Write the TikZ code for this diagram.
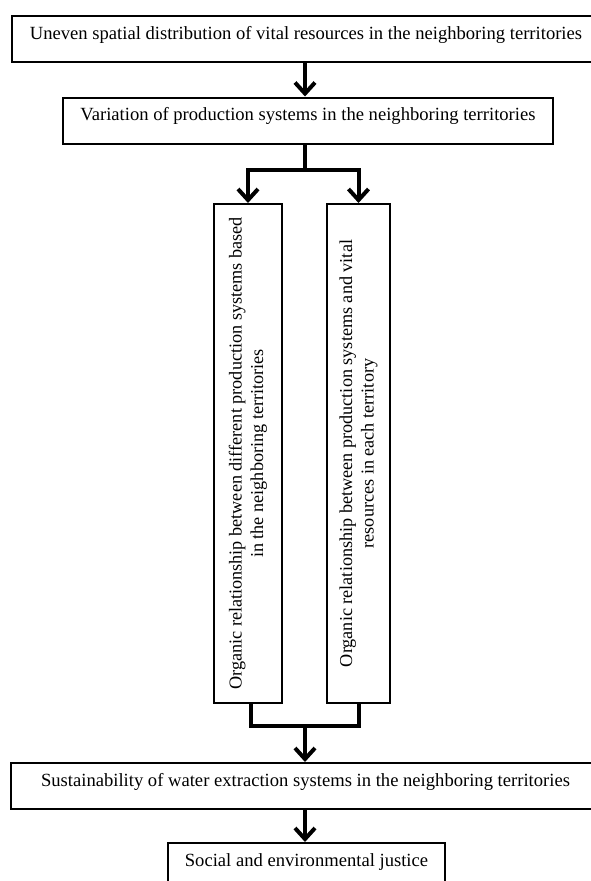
\documentclass[tikz,border=0pt]{standalone}
\usepackage{fontspec}
\setmainfont{Liberation Serif}
\usetikzlibrary{arrows.meta}
\begin{document}
\begin{tikzpicture}[x=1pt,y=-1pt,
  box/.style={draw,line width=2pt,inner sep=0pt,font=\fontsize{18.6}{21.5}\selectfont,text height=9pt,text depth=9pt},
  vbox/.style={draw,line width=2pt,inner sep=0pt,rotate=90,align=center,font=\fontsize{18.2}{21.5}\selectfont,minimum width=499pt},
  conn/.style={line width=4pt},
  arr/.style={line width=4pt,-{Straight Barb[length=11pt,width=20pt]}}]
\useasboundingbox (0,0) rectangle (590,881);
\node[box,minimum width=588pt,minimum height=46pt] (b1) at (306,39) {Uneven spatial distribution of vital resources in the neighboring territories};
\node[box,minimum width=490pt,minimum height=46.5pt] (b2) at (308,120.75) {Variation of production systems in the neighboring territories};
\node[vbox,minimum height=68pt] (v1) at (248,453.5) {Organic relationship between different production systems based\\in the neighboring territories};
\node[vbox,minimum height=63pt] (v2) at (358.5,453.5) {Organic relationship between production systems and vital\\resources in each territory};
\node[box,minimum width=589pt,minimum height=46pt] (b5) at (305.5,786) {Sustainability of water extraction systems in the neighboring territories};
\node[box,minimum width=277pt,minimum height=46pt] (b6) at (306.5,866) {Social and environmental justice};
\coordinate (s1) at (305,170);
\coordinate (m1) at (305,726);
\draw[arr] (b1.south -| s1) -- (s1 |- b2.north);
\draw[conn] (b2.south -| s1) -- (s1);
\draw[arr] (s1) -| (v1.east);
\draw[arr] (s1) -| (v2.east);
\draw[conn] ([xshift=3pt]v1.west) |- (m1) -| (v2.west);
\draw[arr] (m1) -- (m1 |- b5.north);
\draw[arr] (b5.south -| m1) -- (m1 |- b6.north);
\end{tikzpicture}
\end{document}
